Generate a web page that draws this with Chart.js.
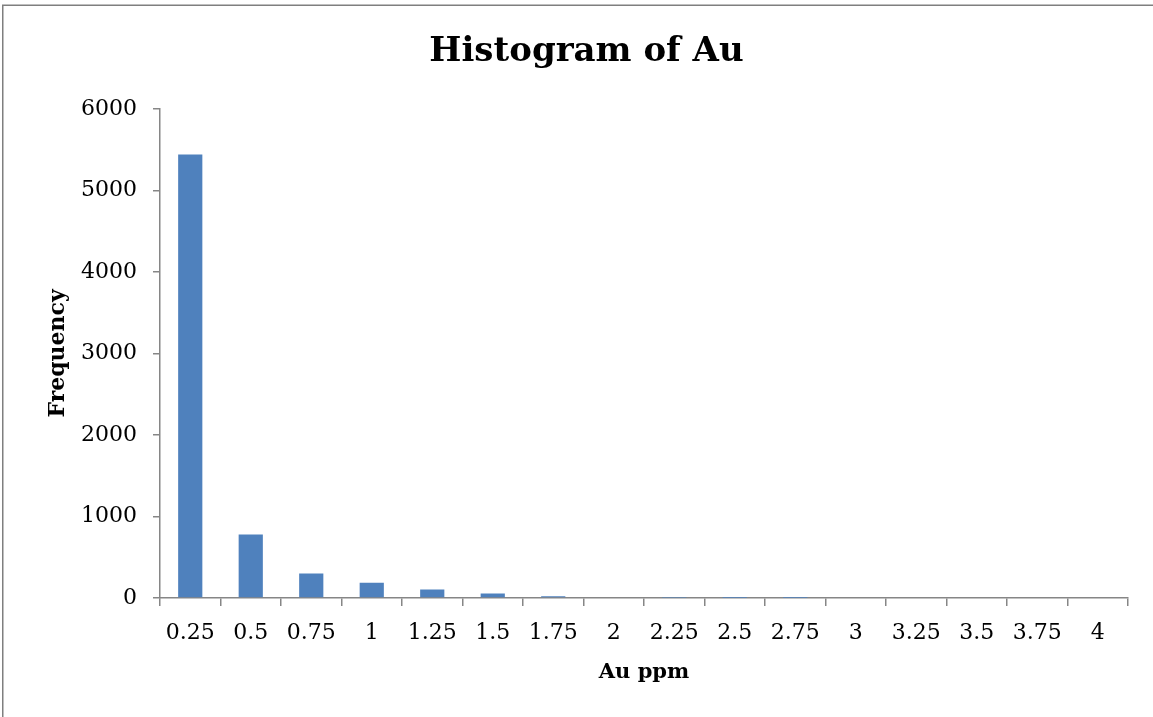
<!DOCTYPE html>
<html>
<head>
<meta charset="utf-8">
<script src="https://cdn.jsdelivr.net/npm/chart.js@4"></script>
<style>
  html, body { margin: 0; padding: 0; background: #ffffff; }
  #wrap { width: 1153px; height: 717px; position: relative; }
</style>
</head>
<body>
<div id="wrap"><canvas id="chart" width="1153" height="717"></canvas></div>
<script>
// Histogram bins (upper bound, Au ppm) and counts per bin
const binLabels = ['0.25', '0.5', '0.75', '1', '1.25', '1.5', '1.75', '2',
                   '2.25', '2.5', '2.75', '3', '3.25', '3.5', '3.75', '4'];
const frequency = [5440, 780, 302, 186, 105, 55, 22, 8,
                   3, 1, 1, 0, 0, 0, 0, 0];
const yTicks = [0, 1000, 2000, 3000, 4000, 5000, 6000];

const serif = "'DejaVu Serif', 'Liberation Serif', serif";
const axisGray = '#868686';

// Outer frame line along the top and left edge
const framePlugin = {
  id: 'frame',
  beforeDraw(chart) {
    const ctx = chart.ctx;
    ctx.save();
    ctx.fillStyle = '#ffffff';
    ctx.fillRect(0, 0, chart.width, chart.height);
    ctx.strokeStyle = '#7f7f7f';
    ctx.lineWidth = 1.5;
    ctx.beginPath();
    ctx.moveTo(2.75, chart.height);
    ctx.lineTo(2.75, 5.25);
    ctx.lineTo(chart.width, 5.25);
    ctx.stroke();
    ctx.restore();
  }
};

new Chart(document.getElementById('chart'), {
  type: 'bar',
  data: {
    labels: binLabels,
    datasets: [{
      label: 'Frequency',
      data: frequency,
      backgroundColor: '#4F81BD',
      borderWidth: 0,
      barPercentage: 0.4,
      categoryPercentage: 1.0
    }]
  },
  options: {
    responsive: false,
    animation: false,
    devicePixelRatio: 1,
    layout: { padding: { left: 45, right: 25, top: 14, bottom: 32 } },
    plugins: {
      legend: { display: false },
      tooltip: { enabled: false },
      title: {
        display: true,
        text: 'Histogram of Au',
        color: '#000000',
        font: { family: serif, size: 34, weight: 'bold', lineHeight: 1.2 },
        padding: { top: 18, bottom: 36 }
      }
    },
    scales: {
      x: {
        offset: true,
        grid: {
          offset: true,
          drawOnChartArea: false,
          drawTicks: true,
          tickLength: 8,
          color: axisGray,
          lineWidth: 1.5
        },
        border: { display: true, color: axisGray, width: 1.5 },
        ticks: {
          color: '#000000',
          font: { family: serif, size: 22 },
          padding: 14,
          maxRotation: 0,
          autoSkip: false
        },
        title: {
          display: true,
          text: 'Au ppm',
          color: '#000000',
          font: { family: serif, size: 21, weight: 'bold' },
          padding: { top: 0, bottom: 0 }
        },
        afterFit(scale) { scale.height = 87; }
      },
      y: {
        min: 0,
        max: 6000,
        afterBuildTicks(scale) { scale.ticks = yTicks.map(v => ({ value: v })); },
        grid: {
          drawOnChartArea: false,
          drawTicks: true,
          tickLength: 7,
          color: axisGray,
          lineWidth: 1.5
        },
        border: { display: true, color: axisGray, width: 1.5 },
        ticks: {
          color: '#000000',
          font: { family: serif, size: 22 },
          padding: 16,
          callback: (value) => String(value)
        },
        title: {
          display: true,
          text: 'Frequency',
          color: '#000000',
          font: { family: serif, size: 22, weight: 'bold' },
          padding: { top: 0, bottom: 0 }
        },
        afterFit(scale) { scale.width = 115; }
      }
    }
  },
  plugins: [framePlugin]
});
</script>
</body>
</html>
